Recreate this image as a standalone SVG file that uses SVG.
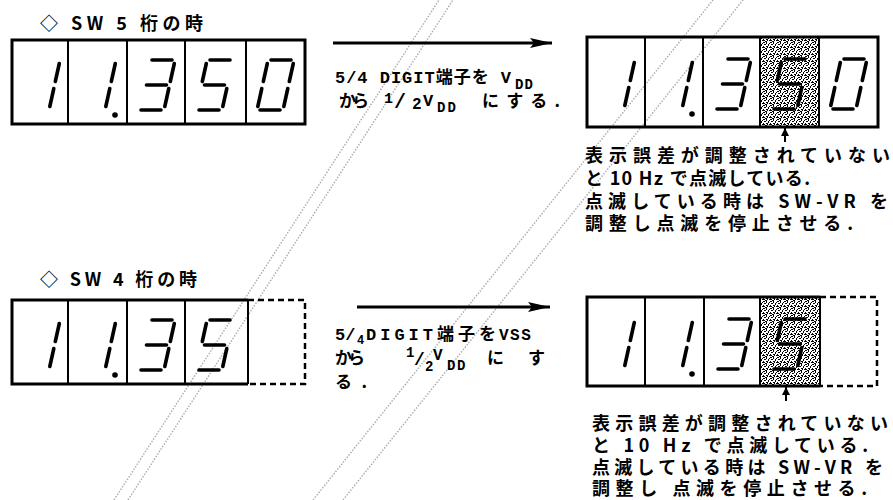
<svg xmlns="http://www.w3.org/2000/svg" xmlns:xlink="http://www.w3.org/1999/xlink" width="893" height="500" viewBox="0 0 893 500">
<style>
.seg{stroke:#000;stroke-width:3.6;stroke-linecap:round;fill:none}
.frame{fill:none;stroke:#000;stroke-width:3}
.div{stroke:#000;stroke-width:2}
.dash{fill:none;stroke:#000;stroke-width:2.5;stroke-dasharray:6 4}
.jp{font-family:"Noto Sans CJK JP","Noto Sans",sans-serif;font-weight:bold;fill:#000}
.mono{font-family:"Liberation Mono","Noto Sans CJK JP",monospace;font-weight:bold;fill:#000}
.arrow{stroke:#000;stroke-width:3;fill:none}
.ptr{stroke:#000;stroke-width:2;fill:none}
.wm{stroke:#888;stroke-width:1.4;stroke-dasharray:1.5 1.5;fill:none;opacity:0.7}
</style>
<defs>
<pattern id="stip" width="7" height="7" patternUnits="userSpaceOnUse">
<rect width="7" height="7" fill="#fff"/>
<rect x="0" y="0" width="2" height="1" fill="#000"/><rect x="3" y="0" width="1" height="2" fill="#000"/><rect x="6" y="1" width="1" height="1" fill="#000"/>
<rect x="1" y="2" width="2" height="1" fill="#000"/><rect x="5" y="2" width="1" height="2" fill="#000"/>
<rect x="0" y="4" width="1" height="2" fill="#000"/><rect x="3" y="4" width="2" height="1" fill="#000"/><rect x="6" y="5" width="1" height="1" fill="#000"/>
<rect x="2" y="6" width="2" height="1" fill="#000"/><rect x="4" y="5" width="1" height="1" fill="#000"/><rect x="1" y="5" width="1" height="1" fill="#000"/>
</pattern>
<marker id="ah" markerUnits="userSpaceOnUse" markerWidth="24" markerHeight="12" refX="22" refY="6" orient="auto">
<path d="M0,1 L22,6 L0,11 L4,6 Z" fill="#000"/>
</marker>
<marker id="ph" markerUnits="userSpaceOnUse" markerWidth="8" markerHeight="10" refX="8" refY="4" orient="auto">
<path d="M0,0 L8,4 L0,8 Z" fill="#000"/>
</marker>
<path id="sA" class="seg" d="M25,20 L45,20"/>
<path id="sB" class="seg" d="M47.3,23.5 L43.3,41.5"/>
<path id="sC" class="seg" d="M41.8,48.5 L37.8,66.5"/>
<path id="sD" class="seg" d="M14,70 L34,70"/>
<path id="sE" class="seg" d="M15.8,48.5 L11.8,66.5"/>
<path id="sF" class="seg" d="M21.3,23.5 L17.3,41.5"/>
<path id="sG" class="seg" d="M19.5,45 L39.5,45"/>
<g id="d1"><use href="#sB"/><use href="#sC"/></g>
<g id="d1p"><use href="#sB"/><use href="#sC"/><circle cx="47" cy="75" r="2.8" fill="#000"/></g>
<g id="d3"><use href="#sA"/><use href="#sB"/><use href="#sC"/><use href="#sD"/><use href="#sG"/></g>
<g id="d5"><use href="#sA"/><use href="#sF"/><use href="#sG"/><use href="#sC"/><use href="#sD"/></g>
<g id="d0"><use href="#sA"/><use href="#sB"/><use href="#sC"/><use href="#sD"/><use href="#sE"/><use href="#sF"/></g>
</defs>
<rect width="893" height="500" fill="#fff"/>

<g id="watermark">
<line class="wm" x1="114" y1="500" x2="439" y2="0"/>
<line class="wm" x1="128" y1="500" x2="453" y2="0"/>
<line class="wm" x1="313" y1="500" x2="713" y2="0"/>
<line class="wm" x1="343" y1="500" x2="743" y2="0"/>
</g>

<g id="header-sw5"><text class="jp" x="40" y="30" font-size="18" textLength="163" lengthAdjust="spacing">◇ SW 5 桁の時</text></g>
<g id="header-sw4"><text class="jp" x="40" y="286" font-size="18" textLength="157" lengthAdjust="spacing">◇ SW 4 桁の時</text></g>

<g id="display-sw5-before">
<rect class="frame" x="12" y="40" width="293" height="84"/>
<line class="div" x1="68" y1="40" x2="68" y2="124"/>
<line class="div" x1="127" y1="40" x2="127" y2="124"/>
<line class="div" x1="185" y1="40" x2="185" y2="124"/>
<line class="div" x1="246" y1="40" x2="246" y2="124"/>
<use href="#d1" x="12" y="40"/>
<use href="#d1p" x="68" y="40"/>
<use href="#d3" x="127" y="40"/>
<use href="#d5" x="185" y="40"/>
<use href="#d0" x="246" y="40"/>
</g>

<g id="display-sw5-after">
<rect x="760" y="37" width="59" height="90" fill="url(#stip)"/>
<rect class="frame" x="587" y="37" width="291" height="90"/>
<line class="div" x1="645" y1="37" x2="645" y2="127"/>
<line class="div" x1="703" y1="37" x2="703" y2="127"/>
<line class="div" x1="760" y1="37" x2="760" y2="127"/>
<line class="div" x1="819" y1="37" x2="819" y2="127"/>
<use href="#d1" x="587" y="39"/>
<use href="#d1p" x="645" y="39"/>
<use href="#d3" x="703" y="39"/>
<use href="#d5" x="760" y="39"/>
<use href="#d0" x="819" y="39"/>
</g>

<g id="display-sw4-before">
<path class="frame" d="M248,300 L12,300 L12,384 L248,384"/>
<path class="dash" d="M248,300 L305,300 L305,384 L248,384"/>
<line class="div" x1="68" y1="300" x2="68" y2="384"/>
<line class="div" x1="127" y1="300" x2="127" y2="384"/>
<line class="div" x1="185" y1="300" x2="185" y2="384"/>
<line class="div" x1="248" y1="300" x2="248" y2="384"/>
<use href="#d1" x="12" y="300"/>
<use href="#d1p" x="68" y="300"/>
<use href="#d3" x="127" y="300"/>
<use href="#d5" x="185" y="300"/>
</g>

<g id="display-sw4-after">
<rect x="760" y="297" width="60" height="89" fill="url(#stip)"/>
<path class="frame" d="M820,297 L587,297 L587,386 L820,386"/>
<path class="dash" d="M820,297 L877,297 L877,386 L820,386"/>
<line class="div" x1="645" y1="297" x2="645" y2="386"/>
<line class="div" x1="704" y1="297" x2="704" y2="386"/>
<line class="div" x1="760" y1="297" x2="760" y2="386"/>
<line class="div" x1="820" y1="297" x2="820" y2="386"/>
<use href="#d1" x="587" y="299"/>
<use href="#d1p" x="645" y="299"/>
<use href="#d3" x="704" y="299"/>
<use href="#d5" x="760" y="299"/>
</g>

<g id="connectors">
<line class="arrow" x1="333" y1="43" x2="552" y2="43" marker-end="url(#ah)"/>
<line class="arrow" x1="357" y1="307" x2="550" y2="307" marker-end="url(#ah)"/>
<line class="ptr" x1="785" y1="142" x2="785" y2="128" marker-end="url(#ph)"/>
<line class="ptr" x1="786" y1="401" x2="786" y2="387" marker-end="url(#ph)"/>
</g>

<g id="label-sw5-action">
<text class="mono" font-size="17" x="335" y="83" textLength="176" lengthAdjust="spacing">5/4 DIGIT端子を V</text>
<text class="mono" font-size="14" x="515" y="89" letter-spacing="1">DD</text>
<text class="jp" font-size="17" x="339" y="107" textLength="30" lengthAdjust="spacing">から</text>
<text class="mono" font-size="15" x="384" y="103">1</text>
<text class="mono" font-size="20" x="394" y="108">/</text>
<text class="mono" font-size="16" x="412" y="109">2</text>
<text class="mono" font-size="17" x="423" y="106">V</text>
<text class="mono" font-size="14" x="437" y="112" letter-spacing="2">DD</text>
<text class="jp" font-size="17" x="482" y="107" textLength="78" lengthAdjust="spacing">にする.</text>
</g>

<g id="label-sw4-action">
<text class="mono" font-size="17" x="335" y="340">5/</text>
<text class="mono" font-size="12" x="357" y="344">4</text>
<text class="mono" font-size="17" x="366" y="340" textLength="130" lengthAdjust="spacing">DIGIT端子を</text>
<text class="mono" font-size="16" x="499" y="340" letter-spacing="1.5">VSS</text>
<text class="jp" font-size="17" x="335" y="364" textLength="30" lengthAdjust="spacing">から</text>
<text class="mono" font-size="14" x="406" y="357">1</text>
<text class="mono" font-size="18" x="414" y="365">/</text>
<text class="mono" font-size="14" x="425" y="371">2</text>
<text class="mono" font-size="16" x="433" y="360">V</text>
<text class="mono" font-size="14" x="447" y="370" letter-spacing="1.5">DD</text>
<text class="jp" font-size="17" x="487" y="364" textLength="58" lengthAdjust="spacing">にす</text>
<text class="jp" font-size="17" x="335" y="388" textLength="32" lengthAdjust="spacing">る.</text>
</g>

<g id="note-sw5">
<text class="jp" font-size="18" x="585" y="162" textLength="305" lengthAdjust="spacing">表示誤差が調整されていない</text>
<text class="jp" font-size="18" x="585" y="185" textLength="225" lengthAdjust="spacing">と 10 Hz で点滅している.</text>
<text class="jp" font-size="18" x="585" y="208" textLength="303" lengthAdjust="spacing">点滅している時は SW-VR を</text>
<text class="jp" font-size="18" x="585" y="230" textLength="268" lengthAdjust="spacing">調整し点滅を停止させる.</text>
</g>

<g id="note-sw4">
<text class="jp" font-size="18" x="592" y="430" textLength="296" lengthAdjust="spacing">表示誤差が調整されていない</text>
<text class="jp" font-size="18" x="592" y="452" textLength="276" lengthAdjust="spacing">と 10 Hz で点滅している.</text>
<text class="jp" font-size="18" x="592" y="474" textLength="291" lengthAdjust="spacing">点滅している時は SW-VR を</text>
<text class="jp" font-size="18" x="592" y="495" textLength="275" lengthAdjust="spacing">調整し 点滅を停止させる.</text>
</g>
</svg>
